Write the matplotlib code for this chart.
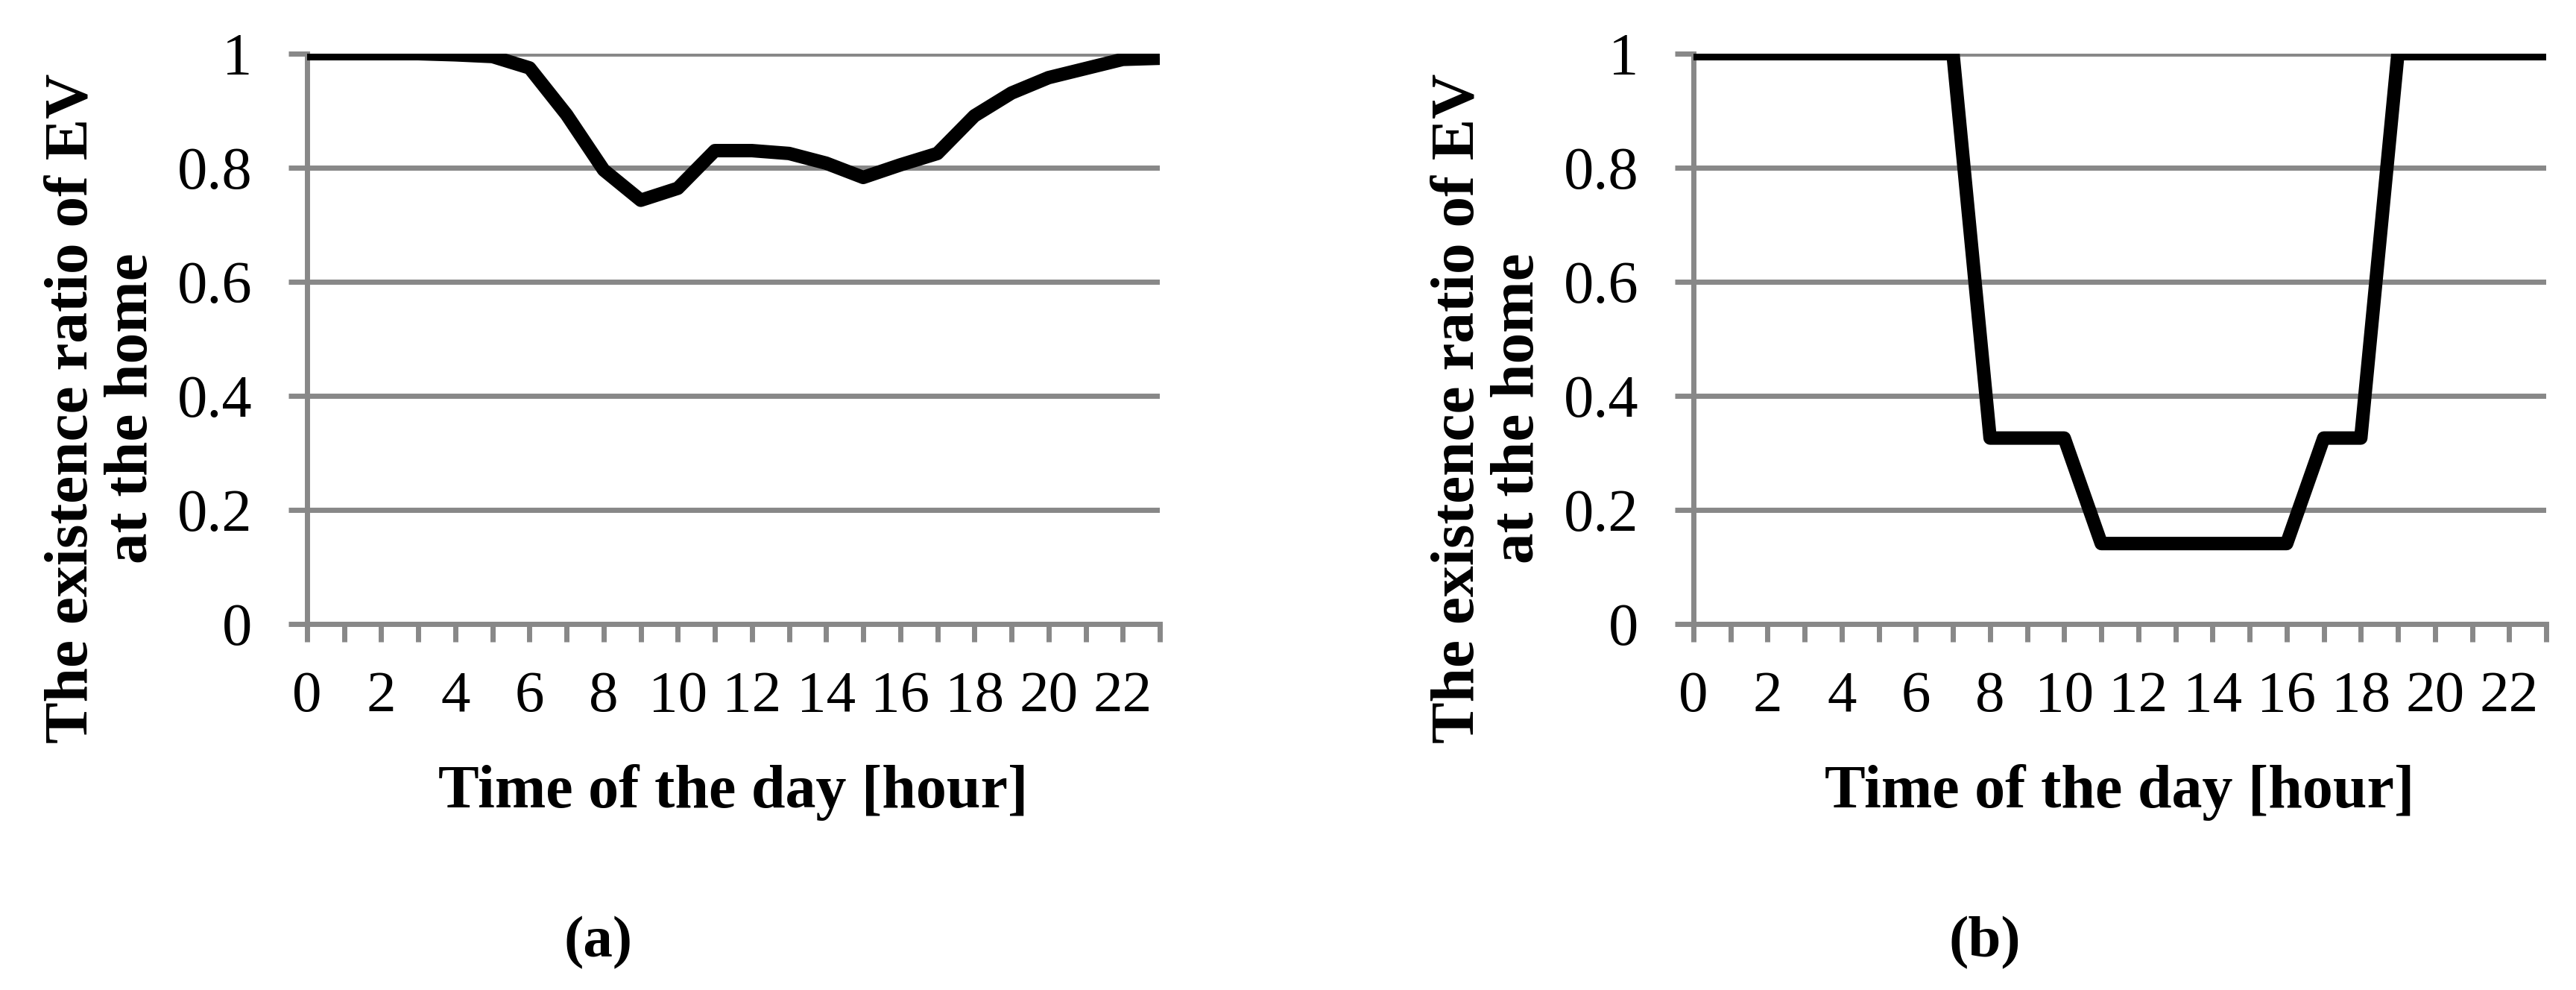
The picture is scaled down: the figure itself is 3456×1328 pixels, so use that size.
import matplotlib
matplotlib.use("Agg")
import matplotlib.pyplot as plt

hours = list(range(24))
ratio_a = [1.0, 1.0, 1.0, 1.0, 0.998, 0.995, 0.975, 0.893, 0.796, 0.743,
           0.764, 0.830, 0.830, 0.825, 0.808, 0.783, 0.805, 0.825, 0.891, 0.931,
           0.958, 0.974, 0.990, 0.992]
ratio_b = [1, 1, 1, 1, 1, 1, 1, 1, 0.326, 0.326,
           0.326, 0.141, 0.141, 0.141, 0.141, 0.141, 0.141, 0.326, 0.326, 1,
           1, 1, 1, 1]
y_ticks = [0, 0.2, 0.4, 0.6, 0.8, 1]
y_ticklabels = ["0", "0.2", "0.4", "0.6", "0.8", "1"]
x_ticklabels = [str(h) if h % 2 == 0 else "" for h in hours]
xlabel = "Time of the day [hour]"
ylabel = "The existence ratio of EV\nat the home"
panel_labels = ["(a)", "(b)"]

plt.rcParams["font.family"] = ["Liberation Serif", "DejaVu Serif"]

W, H = 3456, 1328
fig = plt.figure(figsize=(W / 100, H / 100), dpi=100)

grey = "#888888"
lefts = [412, 2272]
series = [ratio_a, ratio_b]
panel_x = [803, 2663]

for i in range(2):
    x0 = lefts[i] / W
    ax = fig.add_axes([x0, 1 - 837 / H, 1144 / W, 765 / H])
    ax.set_xlim(0, 23)
    ax.set_ylim(0, 1)
    ax.plot(hours, series[i], color="black", lw=13, solid_joinstyle="round",
            solid_capstyle="butt", clip_on=True, zorder=5)
    ax.set_yticks(y_ticks)
    ax.set_yticklabels(y_ticklabels)
    ax.set_xticks(hours)
    ax.set_xticklabels(x_ticklabels)
    ax.yaxis.grid(True, color=grey, lw=5)
    ax.set_axisbelow(True)
    for s in ["top", "right"]:
        ax.spines[s].set_visible(False)
    for s in ["left", "bottom"]:
        ax.spines[s].set_color(grey)
        ax.spines[s].set_linewidth(5)
    ax.tick_params(axis="y", direction="out", length=18, width=5, color=grey,
                   labelsize=58, pad=35)
    ax.tick_params(axis="x", direction="out", length=17, width=5, color=grey,
                   labelsize=57, pad=28)
    ax.set_xlabel(xlabel, fontsize=59, fontweight="bold")
    ax.xaxis.label.set_va("baseline")
    ax.xaxis.set_label_coords(0.5, -0.322)
    ax.set_ylabel(ylabel, fontsize=60, fontweight="bold", linespacing=1.1)
    ax.yaxis.set_label_coords(-0.172, 0.378)
    fig.text(panel_x[i] / W, 1 - 1265 / H, panel_labels[i], fontsize=57,
             fontweight="bold", ha="center", va="center")

fig.savefig("out.png", dpi=100, facecolor="white")
